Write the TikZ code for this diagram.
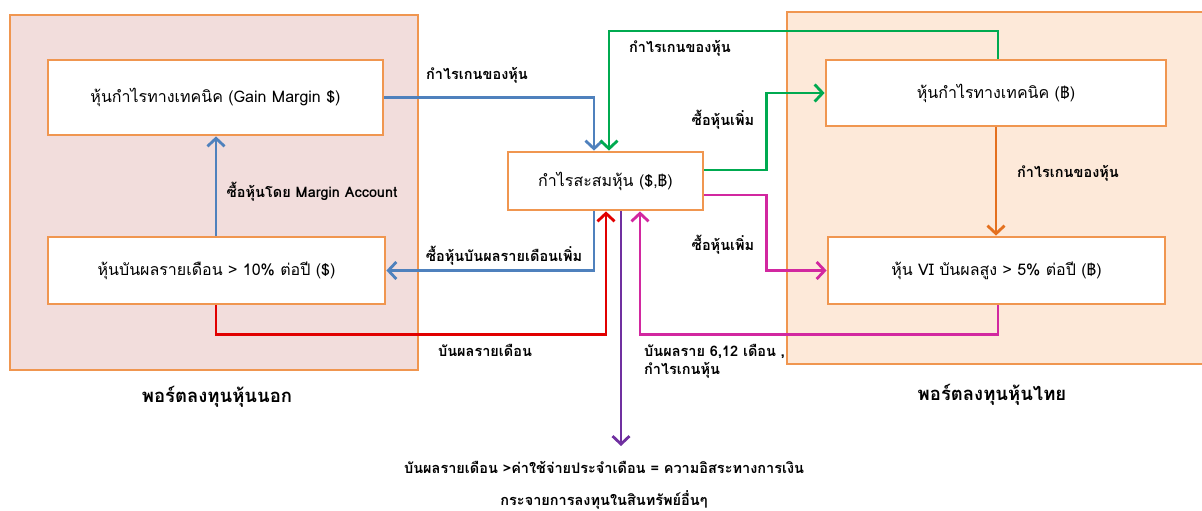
\documentclass[tikz,border=0pt]{standalone}
\usepackage{fontspec}
\setmainfont{Loma}[Script=Thai]
\usetikzlibrary{arrows.meta}

\definecolor{boxline}{RGB}{240,150,80}
\definecolor{leftfill}{RGB}{242,221,220}
\definecolor{rightfill}{RGB}{253,233,217}
\definecolor{flowblue}{RGB}{79,129,189}
\definecolor{flowgreen}{RGB}{0,170,80}
\definecolor{flowmag}{RGB}{210,40,160}
\definecolor{flowred}{RGB}{225,0,0}
\definecolor{flowpurple}{RGB}{112,48,160}
\definecolor{floworange}{RGB}{228,112,30}

\tikzset{
  stockbox/.style={rectangle, draw=boxline, fill=white, line width=2.8pt,
    font=\fontsize{16}{19}\selectfont},
  flowlabel/.style={font=\bfseries\fontsize{14.5}{18}\selectfont, inner sep=1pt},
  portlabel/.style={font=\bfseries\fontsize{18.5}{22}\selectfont, inner sep=1pt},
  flow/.style={line width=2.8pt, -{Straight Barb[length=8pt,width=17pt,line width=2.8pt]}},
}

\begin{document}
\begin{tikzpicture}[x=1pt,y=-1pt]
      \useasboundingbox (0,0) rectangle (1202,511);

      % Panels
      \draw[draw=boxline, fill=leftfill, line width=2.8pt] (10,15) rectangle (418,370);
      \draw[draw=boxline, fill=rightfill, line width=2.8pt] (787,12) rectangle (1210,364);

      % Nodes
      \node (ltop) at (215.5,97.5) [stockbox, minimum width=335pt, minimum height=75pt] {หุ้นกำไรทางเทคนิค (Gain Margin \$)};
      \node (lbot) at (216.5,270.5) [stockbox, minimum width=337pt, minimum height=67pt] {หุ้นบันผลรายเดือน > 10\% ต่อปี (\$)};
      \node (cbox) at (605.5,181) [stockbox, minimum width=195pt, minimum height=58pt] {กำไรสะสมหุ้น (\$,฿)};
      \node (rtop) at (996,93) [stockbox, minimum width=340pt, minimum height=66pt] {หุ้นกำไรทางเทคนิค (฿)};
      \node (rbot) at (996.5,270.5) [stockbox, minimum width=337pt, minimum height=67pt] {หุ้น VI บันผลสูง > 5\% ต่อปี (฿)};

      \coordinate (gtop) at (609,31);
      \coordinate (fin) at (621,446);

      % Edges
      \draw[flow, flowblue] (ltop.east) -| (cbox.north -| 594,0);
      \draw[flow, flowgreen] (rtop.north -| 998,0) |- (gtop) -- (cbox.north -| gtop);
      \draw[flow, flowgreen] (cbox.east |- 0,170) -- ++(62,0) |- (rtop.west);
      \draw[flow, flowmag] (cbox.east |- 0,195) -- ++(62,0) |- (rbot.west);
      \draw[flow, flowmag] (rbot.south -| 998,0) -- ++(0,29) -| (cbox.south -| 640,0);
      \draw[flow, flowred] (lbot.south -| 216,0) -- ++(0,29) -| (cbox.south -| 606,0);
      \draw[flow, flowblue] (cbox.south -| 594,0) |- (lbot.east);
      \draw[flow, flowblue] (lbot.north -| 216,0) -- (ltop.south -| 216,0);
      \draw[flow, floworange] (rtop.south -| 996,0) -- (rbot.north -| 996,0);
      \draw[flow, flowpurple] (cbox.south -| 621,0) -- (fin);

      % Labels
      \node (gainblue) at (477,75) [flowlabel] {กำไรเกนของหุ้น};
      \node (gaingreen) at (680,48) [flowlabel] {กำไรเกนของหุ้น};
      \node (buymoretop) at (723,120) [flowlabel] {ซื้อหุ้นเพิ่ม};
      \node (buymorebot) at (723,245) [flowlabel] {ซื้อหุ้นเพิ่ม};
      \node (margin) at (312,192) [flowlabel] {ซื้อหุ้นโดย Margin Account};
      \node (buydiv) at (504,256) [flowlabel] {ซื้อหุ้นบันผลรายเดือนเพิ่ม};
      \node (monthly) at (485,350) [flowlabel] {บันผลรายเดือน};
      \node (halfyear) at (643,361) [flowlabel, anchor=west, align=left] {บันผลราย 6,12 เดือน ,\\กำไรเกนหุ้น};
      \node (gainorange) at (1068,173) [flowlabel] {กำไรเกนของหุ้น};

      \node (leftport) at (217,397) [portlabel] {พอร์ตลงทุนหุ้นนอก};
      \node (rightport) at (992,395) [portlabel] {พอร์ตลงทุนหุ้นไทย};

      \node (freedom) at (604,467) [flowlabel] {บันผลรายเดือน >ค่าใช้จ่ายประจำเดือน = ความอิสระทางการเงิน};
      \node (spread) at (604,500) [flowlabel] {กระจายการลงทุนในสินทรัพย์อื่นๆ};
    \end{tikzpicture}
\end{document}
